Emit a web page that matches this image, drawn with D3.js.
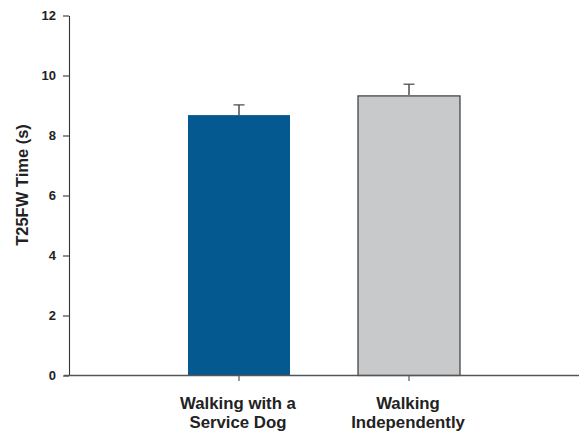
<!DOCTYPE html>
<html><head><meta charset="utf-8">
<script src="https://cdn.jsdelivr.net/npm/d3@7"></script>
<style>
body{margin:0;background:#fff;}
text{font-family:"Liberation Sans",Arial,sans-serif;font-weight:bold;fill:#222;}
</style></head>
<body><svg id="c" width="585" height="433"></svg>
<script>
const categories = [["Walking with a","Service Dog"],["Walking","Independently"]];
const positions = [1, 2];
const values = [8.68, 9.32];
const errors = [0.34, 0.39];
const colors = ["#035990", "#c8c9cb"];
const yTicks = [0, 2, 4, 6, 8, 10, 12];

const svg = d3.select("#c");
const x = d3.scaleLinear().domain([0, 3]).range([69, 579]);
const y = d3.scaleLinear().domain([0, 12]).range([375.5, 15.5]);
const barW = x(0.6) - x(0);

// bars
svg.selectAll("rect.bar").data(values).join("rect")
  .attr("class","bar")
  .attr("x",(d,i)=>x(positions[i]) - barW/2)
  .attr("y",d=>y(d))
  .attr("width",barW)
  .attr("height",d=>y(0)-y(d))
  .attr("fill",(d,i)=>colors[i])
  .attr("stroke",(d,i)=>i===1?"#3a3a3a":"none")
  .attr("stroke-width",1.2);

// error bars
values.forEach((v,i)=>{
  const cx = x(positions[i]);
  svg.append("line").attr("x1",cx).attr("x2",cx)
    .attr("y1",y(v)).attr("y2",y(v+errors[i]))
    .attr("stroke","#7a7a7a").attr("stroke-width",2);
  svg.append("line").attr("x1",cx-5.5).attr("x2",cx+5.5)
    .attr("y1",y(v+errors[i])).attr("y2",y(v+errors[i]))
    .attr("stroke","#444").attr("stroke-width",1.2);
});

// y axis
const yAxis = svg.append("g").attr("transform",`translate(${x(0)},0)`)
  .call(d3.axisLeft(y).tickValues(yTicks).tickSize(6).tickPadding(7).tickSizeOuter(0));
yAxis.select(".domain").attr("stroke","#333").attr("stroke-width",1.1);
yAxis.selectAll(".tick line").attr("stroke","#333").attr("stroke-width",1.1);
yAxis.selectAll(".tick text").style("font-size","13px").attr("fill","#222")
  .style("font-family","'Liberation Sans',Arial,sans-serif").style("font-weight","bold");

// x axis
svg.append("line").attr("x1",64).attr("x2",579).attr("y1",y(0)).attr("y2",y(0))
  .attr("stroke","#555").attr("stroke-width",1.4);
positions.forEach(p=>{
  svg.append("line").attr("x1",x(p)).attr("x2",x(p)).attr("y1",y(0)).attr("y2",y(0)+5.5)
    .attr("stroke","#555").attr("stroke-width",1.2);
});

// x labels
categories.forEach((lines,i)=>{
  lines.forEach((t,j)=>{
    svg.append("text").attr("x",x(positions[i])-1).attr("y",408.5 + j*19)
      .attr("text-anchor","middle").attr("font-size",16.8).text(t);
  });
});

// y label
svg.append("text")
  .attr("transform","translate(27.5,185) rotate(-90)")
  .attr("text-anchor","middle").attr("font-size",16.5).text("T25FW Time (s)");
</script></body></html>
